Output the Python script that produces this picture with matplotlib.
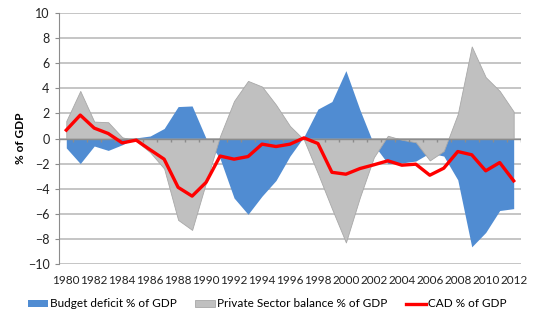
import matplotlib.pyplot as plt
import numpy as np

years = list(range(1980, 2013))

# budget balance (shown as "Budget deficit"), % of GDP
budget = [-0.75, -2.0, -0.6, -0.95, -0.5, 0.05, 0.2, 0.8, 2.55, 2.6, 0.0,
          -1.6, -4.75, -6.05, -4.6, -3.35, -1.4, 0.15, 2.35, 2.95, 5.42,
          2.3, -0.5, -2.0, -1.95, -1.8, -1.15, -1.4, -3.3, -8.65, -7.5,
          -5.75, -5.6]

private = [1.4, 3.8, 1.35, 1.3, 0.1, -0.2, -1.1, -2.4, -6.5, -7.3, -3.5,
           0.2, 3.0, 4.6, 4.15, 2.7, 1.0, -0.1, -2.8, -5.6, -8.3,
           -4.7, -1.5, 0.22, -0.1, -0.3, -1.75, -1.0, 1.95, 7.35, 4.9,
           3.8, 2.15]

cad = [0.67, 1.87, 0.83, 0.4, -0.35, -0.13, -0.9, -1.65, -3.9, -4.6, -3.5,
       -1.4, -1.65, -1.44, -0.45, -0.64, -0.45, 0.05, -0.4, -2.7, -2.85,
       -2.4, -2.1, -1.78, -2.13, -2.05, -2.93, -2.37, -1.04, -1.3, -2.58,
       -1.92, -3.38]

plt.rcParams['font.family'] = ['Lato', 'DejaVu Sans']

fig = plt.figure(figsize=(5.39, 3.24), dpi=100)
ax = fig.add_axes([0.110, 0.186, 0.856, 0.773])

ax.fill_between(years, 0, budget, color='#508cd2', lw=0, zorder=2,
                label='Budget deficit % of GDP')
ax.fill_between(years, 0, private, facecolor='#c0c0c0', edgecolor='#a8a8a8',
                lw=0.6, zorder=3, label='Private Sector balance % of GDP')
ax.axhline(0, color='#8c8c8c', lw=1, zorder=4)
ax.vlines(np.arange(years[0] - 0.5, years[-1] + 1), -0.25, 0,
          color='#8c8c8c', lw=1, zorder=4)
ax.plot(years, cad, color='#ff0000', lw=2.4, zorder=5, label='CAD % of GDP')

ax.set_xlim(years[0] - 0.5, years[-1] + 0.5)
ax.set_ylim(-10, 10)
ax.set_yticks(range(-10, 11, 2))
ax.set_xticks(years[::2])
ax.grid(axis='y', color='#c0c0c0', lw=1.3, zorder=0)
ax.set_axisbelow(True)

for s in ['top', 'right', 'bottom']:
    ax.spines[s].set_visible(False)
ax.spines['left'].set_color('#8c8c8c')

ax.tick_params(axis='x', length=0, pad=8, labelsize=8.5, colors='#222222')
ax.tick_params(axis='y', length=3, color='#8c8c8c', labelsize=9,
               colors='#222222', pad=4)
ax.set_ylabel('% of GDP', fontsize=8.5, fontweight='bold', labelpad=1)

fig.legend(loc='center', bbox_to_anchor=(0.496, 0.062), ncol=3,
           frameon=False, fontsize=8.5, handlelength=1.7, handleheight=0.55,
           handletextpad=0.15, columnspacing=1.6)

plt.savefig('out.png')
